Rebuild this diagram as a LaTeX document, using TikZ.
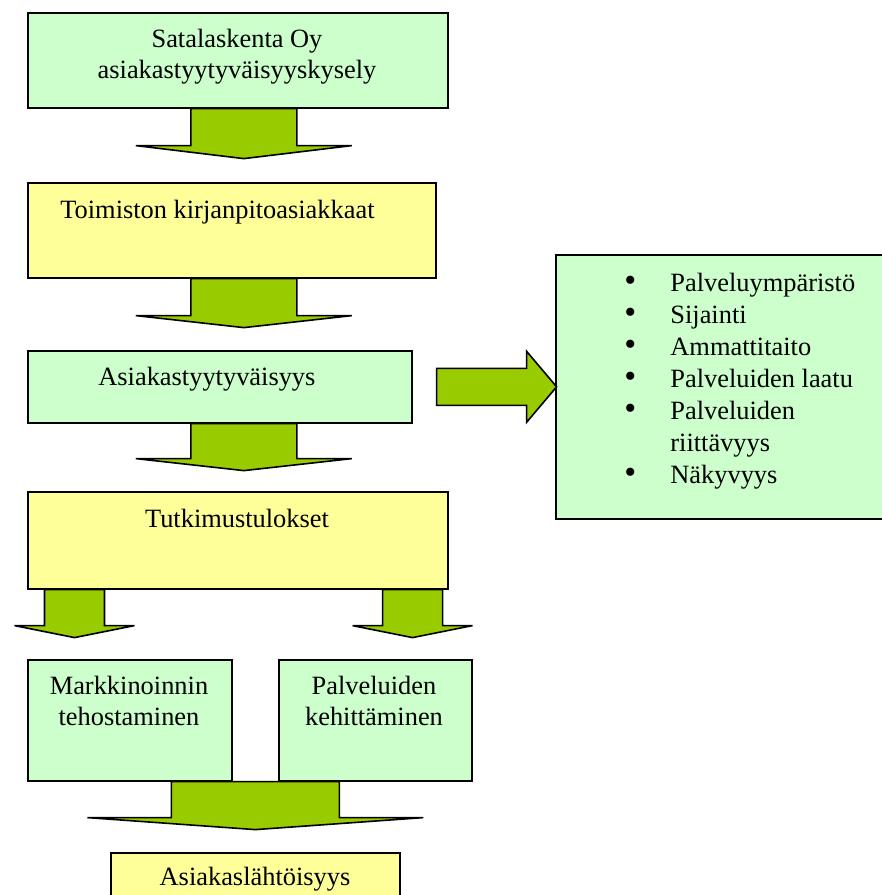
\documentclass[tikz,border=0pt]{standalone}
\usepackage{fontspec}
\setmainfont{Liberation Serif}
\usetikzlibrary{calc}
\definecolor{boxgreen}{HTML}{CCFFCC}
\definecolor{boxyellow}{HTML}{FFFF99}
\definecolor{arrowgreen}{HTML}{99CC00}
\tikzset{
  box/.style={draw,line width=.8pt,rectangle,anchor=north west,inner sep=0pt},
  greenbox/.style={box,fill=boxgreen},
  yellowbox/.style={box,fill=boxyellow},
  txt/.style={inner sep=0pt,align=center,font=\fontsize{13.2}{15.3}\selectfont},
  pics/blockarrow/.style n args={4}{code={
    \draw[line width=.8pt,fill=arrowgreen] (-#1,0)--(-#1,#3)--(-#2,#3)--(0,#4)--(#2,#3)--(#1,#3)--(#1,0)--cycle;}}
}
\newcommand{\bigbullet}{{\fontsize{17}{16}\selectfont\textbullet}}
\begin{document}
\begin{tikzpicture}[x=.5pt,y=-.5pt]
	\useasboundingbox (0,0) rectangle (882,895);
	% \node[greenbox] (b0) at (27,0) {};
	\node[greenbox,minimum width=210pt,minimum height=47.5pt] (b1) at (27,12) {};
	\node[yellowbox,minimum width=204pt,minimum height=47.5pt] (b2) at (27,182) {};
	\node[greenbox,minimum width=192pt,minimum height=36pt] (b3) at (27,350) {};
	\node[yellowbox,minimum width=210pt,minimum height=48.5pt] (b4) at (27,491) {};
	\node[greenbox,minimum width=102pt,minimum height=60.5pt] (b5) at (27,659) {};
	\node[greenbox,minimum width=96.5pt,minimum height=60.5pt] (b6) at (278,659) {};
	\node[yellowbox,minimum width=144.5pt,minimum height=30pt] (b7) at (110,852) {};
	\node[greenbox,minimum width=170pt,minimum height=132pt] (list) at (555,254) {};
	\node[txt,anchor=base] (t1) at (237,78) {Satalaskenta Oy\\asiakastyytyväisyyskysely};
	\node[txt,anchor=base west] (t2) at (60,218) {Toimiston kirjanpitoasiakkaat};
	\node[txt,anchor=base west] (t3) at (98,385) {Asiakastyytyväisyys};
	\node[txt,anchor=base] (t4) at (237,527) {Tutkimustulokset};
	\node[txt,anchor=base] (t5) at (129,725) {Markkinoinnin\\tehostaminen};
	\node[txt,anchor=base] (t6) at (374,725) {Palveluiden\\kehittäminen};
	\node[txt,anchor=base] (t7) at (255,885) {Asiakaslähtöisyys};
	\node[txt,anchor=base west,align=left,font=\fontsize{13.2}{16}\selectfont] (tl) at (624,291)
		{\begin{tabular}[t]{@{}p{18pt}@{\hspace{5pt}}l@{}}
		\bigbullet & Palveluympäristö\\
		\bigbullet & Sijainti\\
		\bigbullet & Ammattitaito\\
		\bigbullet & Palveluiden laatu\\
		\bigbullet & Palveluiden\\
		 & riittävyys\\
		\bigbullet & Näkyvyys
		\end{tabular}};
	\pic at ([xshift=3pt]b1.south) {blockarrow={53}{108}{37}{50}};
	\pic at ([xshift=6pt]b2.south) {blockarrow={53}{108}{37}{49}};
	\pic at ([xshift=12pt]b3.south) {blockarrow={53}{108}{35}{47}};
	\pic at ([xshift=23.75pt]b4.south west) {blockarrow={30}{60}{36}{48}};
	\pic at ([xshift=-18pt]b4.south east) {blockarrow={30}{60}{36}{48}};
	\pic at ($(b5.south east)!.5!(b6.south west)$) {blockarrow={84}{168}{36}{48}};
	\pic[rotate=90] at ([xshift=12pt]b3.east) {blockarrow={18.5}{35.5}{90}{120}};
\end{tikzpicture}
\end{document}
